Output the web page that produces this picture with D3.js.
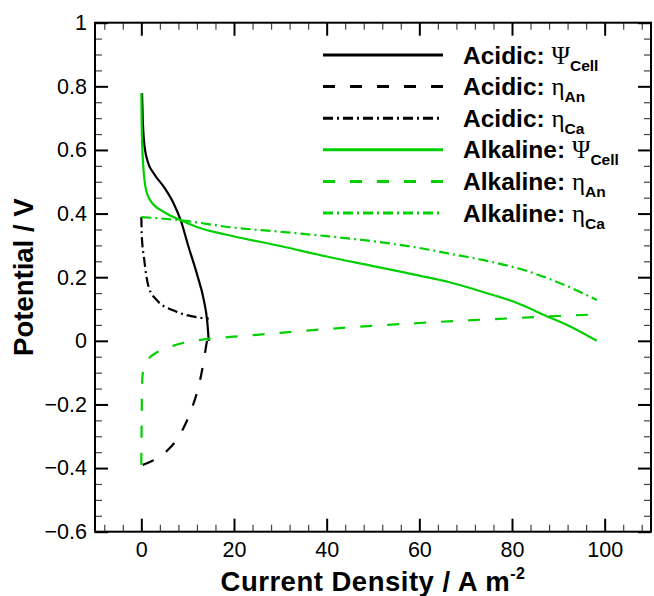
<!DOCTYPE html>
<html>
<head>
<meta charset="utf-8">
<script src="https://cdn.jsdelivr.net/npm/d3@7"></script>
<style>
  body { margin: 0; background: #fff; }
  text { font-family: "Liberation Sans", Arial, sans-serif; }
</style>
</head>
<body>
<div id="chart"></div>
<script>
// curves: [current density, potential]
const acidicCell = [[0.15,0.778],[0.3,0.70],[0.56,0.63],[1.3,0.567],[2.7,0.526],[4.9,0.483],[7.0,0.431],[8.5,0.379],[10.2,0.295],[12,0.21],[13.5,0.127],[14.2,0.064],[14.55,0.0]];
const acidicAn = [[0.3,-0.39],[1.2,-0.385],[2.4,-0.377],[5.6,-0.345],[8.4,-0.293],[10.7,-0.22],[12.4,-0.141],[13.5,-0.062],[14.2,0.0],[14.55,0.012]];
const acidicCa = [[0,0.389],[0.1,0.33],[0.56,0.263],[1.6,0.168],[3.4,0.127],[7,0.095],[12,0.074],[14.55,0.07]];
const alkCell = [[0,0.778],[0.08,0.68],[0.2,0.61],[0.9,0.483],[2,0.44],[4.9,0.405],[8.5,0.379],[12,0.358],[19.2,0.331],[30,0.298],[40,0.265],[50,0.235],[60,0.205],[66.5,0.184],[75,0.148],[80,0.125],[87.3,0.079],[93,0.042],[98.3,0.0]];
const alkAn = [[0,-0.39],[0.08,-0.22],[0.25,-0.11],[0.7,-0.078],[1.5,-0.058],[3.4,-0.036],[7,-0.015],[14.2,0.006],[20,0.013],[30,0.025],[40,0.037],[50,0.047],[60,0.056],[70,0.064],[80,0.071],[90,0.078],[98.3,0.083]];
const alkCa = [[0,0.389],[8.5,0.379],[19.2,0.357],[30,0.343],[40,0.329],[50,0.313],[60,0.292],[66.5,0.274],[75,0.25],[82,0.225],[88,0.195],[93,0.165],[98.3,0.128]];

const seriesData = [acidicCell, acidicAn, acidicCa, alkCell, alkAn, alkCa];
const legendNames = ["Acidic: ", "Acidic: ", "Acidic: ", "Alkaline: ", "Alkaline: ", "Alkaline: "];
const legendGreek = ["\u03A8", "\u03B7", "\u03B7", "\u03A8", "\u03B7", "\u03B7"];
const legendSub = ["Cell", "An", "Ca", "Cell", "An", "Ca"];
const seriesColor = ["#000", "#000", "#000", "#00d000", "#00d000", "#00d000"];
const seriesDash = [null, "12,15", "10,4,2,4", null, "12,15", "10,4,2,4"];

const xTicks = [0, 20, 40, 60, 80, 100];
const yTicks = [-0.6, -0.4, -0.2, 0, 0.2, 0.4, 0.6, 0.8, 1];

const width = 654, height = 596;
const pLeft = 95, pRight = 651, pTop = 22.7, pBottom = 531.7;

let svg = d3.select("#chart")
    .append("svg")
    .attr("width", width)
    .attr("height", height);

let x = d3.scaleLinear().domain([-10, 110]).range([pLeft, pRight]);
let y = d3.scaleLinear().domain([-0.6, 1]).range([pBottom, pTop]);

let xMinor = d3.range(-8, 110, 4).filter(d => d % 20 != 0);
let yMinor = d3.range(-0.55, 1, 0.05).map(d => +d.toFixed(2)).filter(d => Math.abs(Math.round(d * 5) - d * 5) > 1e-6);

// minor ticks, all four sides, pointing in
function minor(axis, pos, vals) {
    let g = svg.append("g")
        .attr("transform", pos)
        .call(axis.tickValues(vals).tickSize(-7).tickFormat(""));
    g.select(".domain").remove();
    g.selectAll("line").attr("stroke", "#444").attr("stroke-width", 1.2);
}
minor(d3.axisBottom(x), `translate(0,${pBottom})`, xMinor);
minor(d3.axisTop(x), `translate(0,${pTop})`, xMinor);
minor(d3.axisLeft(y), `translate(${pLeft},0)`, yMinor);
minor(d3.axisRight(y), `translate(${pRight},0)`, yMinor);

// major ticks
function major(axis, pos, vals, fmt, pad) {
    let g = svg.append("g")
        .attr("transform", pos)
        .call(axis.tickValues(vals).tickSize(-13).tickPadding(pad).tickFormat(fmt));
    g.select(".domain").remove();
    g.selectAll("line").attr("stroke", "#000").attr("stroke-width", 2);
    g.selectAll("text").style("font-size", "21.5px").attr("fill", "#000")
        .style("font-family", "'Liberation Sans', Arial, sans-serif");
    return g;
}
major(d3.axisBottom(x), `translate(0,${pBottom})`, xTicks, d3.format("d"), 10);
major(d3.axisTop(x), `translate(0,${pTop})`, xTicks, "", 0);
major(d3.axisLeft(y), `translate(${pLeft},0)`, yTicks, d => d3.format("")(+d.toFixed(1)), 8);
major(d3.axisRight(y), `translate(${pRight},0)`, yTicks, "", 0);

svg.append("rect")
    .attr("x", pLeft).attr("y", pTop)
    .attr("width", pRight - pLeft).attr("height", pBottom - pTop)
    .attr("fill", "none").attr("stroke", "#000").attr("stroke-width", 2);

// curves
let line = d3.line()
    .x(d => x(d[0]))
    .y(d => y(d[1]))
    .curve(d3.curveMonotoneX);

seriesData.forEach(function(s, i) {
    svg.append("path")
        .datum(s)
        .attr("d", line)
        .attr("fill", "none")
        .attr("stroke", seriesColor[i])
        .attr("stroke-width", 2.2)
        .attr("stroke-dasharray", seriesDash[i]);
});

// legend
let leg = svg.append("g");
seriesData.forEach(function(s, i) {
    let ly = 55 + i * 31.6;
    leg.append("line")
        .attr("x1", 323).attr("x2", 443)
        .attr("y1", ly).attr("y2", ly)
        .attr("stroke", seriesColor[i])
        .attr("stroke-width", 3)
        .attr("stroke-dasharray", seriesDash[i]);
    let t = leg.append("text")
        .attr("x", 463).attr("y", ly + 8.5)
        .style("font-size", "24.5px");
    t.append("tspan").text(legendNames[i]).style("font-weight", "bold");
    t.append("tspan").text(legendGreek[i])
        .style("font-family", "'Liberation Serif', 'Times New Roman', serif")
        .style("font-size", "25px");
    t.append("tspan").text(legendSub[i])
        .style("font-weight", "bold")
        .style("font-size", "15.5px")
        .attr("dy", 7);
});

// axis titles
let xt = svg.append("text")
    .attr("x", (pLeft + pRight) / 2)
    .attr("y", 590.7)
    .style("text-anchor", "middle")
    .style("font-weight", "bold")
    .style("font-size", "27.5px")
    .style("letter-spacing", "0.5px");
xt.append("tspan").text("Current Density / A m");
xt.append("tspan").text("-2").style("font-size", "16px").attr("dy", -12);

svg.append("text")
    .text("Potential / V")
    .attr("transform", `translate(33,${(pTop + pBottom) / 2})rotate(-90)`)
    .style("text-anchor", "middle")
    .style("font-weight", "bold")
    .style("font-size", "27.5px");
</script>
</body>
</html>
